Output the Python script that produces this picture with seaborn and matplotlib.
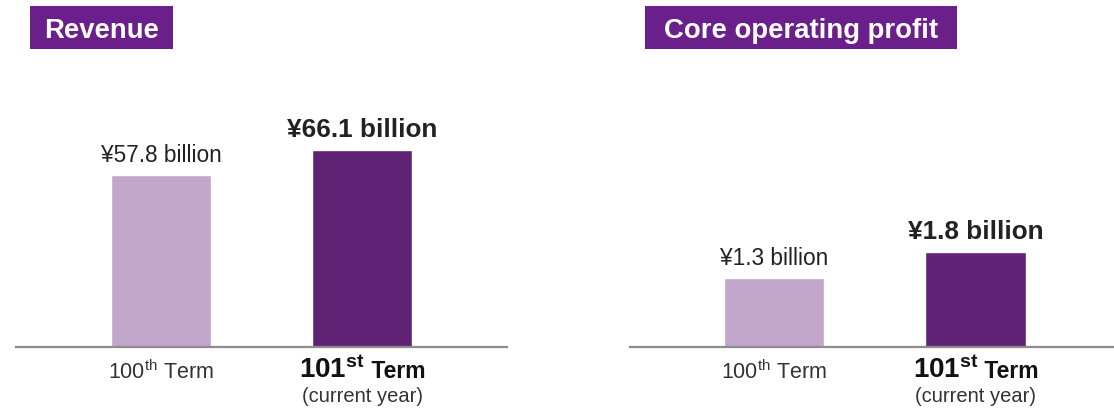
import matplotlib
matplotlib.use("Agg")
import matplotlib.pyplot as plt
import seaborn as sns
from matplotlib.patches import Rectangle
from matplotlib.offsetbox import TextArea, HPacker, VPacker, AnnotationBbox

# ---- data ----
categories = ["100th Term", "101st Term"]
term_numbers = ["100", "101"]
term_suffixes = ["th", "st"]
current_note = "(current year)"
revenue = [57.8, 66.1]
core_profit = [1.3, 1.8]
panel_titles = ["Revenue", "Core operating profit"]

# ---- style ----
sns.set_style("white")
plt.rcParams["font.family"] = ["Liberation Sans", "DejaVu Sans"]
plt.rcParams["mathtext.fontset"] = "custom"
plt.rcParams["mathtext.rm"] = "Liberation Sans"
plt.rcParams["mathtext.bf"] = "Liberation Sans:bold"
plt.rcParams["mathtext.it"] = "Liberation Sans:italic"

LIGHT = "#c2a6cc"
DARK = "#5f2275"
TITLE_BG = "#6a1f8a"
TXT = "#222222"

W, H = 1114, 410
fig = plt.figure(figsize=(W / 100, H / 100), dpi=100)

def px_axes(x0, x1, ytop, ybot):
    return fig.add_axes([x0 / W, (H - ybot) / H, (x1 - x0) / W, (ybot - ytop) / H])

ax_l = px_axes(16, 507, 60, 348)
ax_r = px_axes(630, 1114, 60, 348)

panels = [
    (ax_l, revenue, (-0.72, 1.72), 96.6, (30, 173)),
    (ax_r, core_profit, (-0.715, 1.687), 5.43, (645, 957)),
]

for (ax, vals, xlim, ytop, (bx0, bx1)), title in zip(panels, panel_titles):
    sns.barplot(x=categories, y=vals, hue=categories, palette=[LIGHT, DARK],
                width=0.5, saturation=1, legend=False, ax=ax)
    ax.set_xlim(*xlim)
    ax.set_ylim(0, ytop)
    for s in ["top", "left", "right"]:
        ax.spines[s].set_visible(False)
    ax.spines["bottom"].set_color("#8c8c8c")
    ax.spines["bottom"].set_linewidth(1.6)
    ax.set_xticks([])
    ax.set_yticks([])
    ax.set_xlabel("")
    ax.set_ylabel("")

    # value labels
    for i, v in enumerate(vals):
        bold = i == len(vals) - 1
        ax.annotate(f"¥{v} billion", xy=(i, v), xytext=(0, 10),
                    textcoords="offset points", ha="center", va="baseline",
                    fontsize=18.8 if bold else 16.3,
                    fontweight="bold" if bold else "normal", color=TXT,
                    annotation_clip=False)

    # category labels
    for i, (num, suf) in enumerate(zip(term_numbers, term_suffixes)):
        if i == 0:
            box = TextArea(num + r"$^{\mathrm{" + suf + r"}}$ Term",
                           textprops=dict(size=15.5, color="#333333"))
            yoff = -9
        else:
            row = HPacker(children=[
                TextArea(r"$\mathbf{" + num + r"}^{\mathbf{" + suf + r"}}$",
                         textprops=dict(size=20, color="#111111")),
                TextArea(" Term", textprops=dict(size=16.5, fontweight="bold",
                                                 color="#111111")),
            ], align="baseline", pad=0, sep=0)
            note = TextArea(current_note, textprops=dict(size=14.5, color="#333333"))
            box = VPacker(children=[row, note], align="center", pad=0, sep=2)
            yoff = -6
        ab = AnnotationBbox(box, (i, 0), xybox=(0, yoff), xycoords="data",
                            boxcoords="offset points", box_alignment=(0.5, 1),
                            frameon=False, pad=0, annotation_clip=False)
        ax.add_artist(ab)

    # title box
    fig.add_artist(Rectangle((bx0 / W, (H - 50) / H), (bx1 - bx0) / W, 43 / H,
                             transform=fig.transFigure, facecolor=TITLE_BG,
                             edgecolor="none"))
    fig.text((bx0 + bx1) / 2 / W, (H - 38) / H, title, ha="center", va="baseline",
             fontsize=19.8, fontweight="bold", color="white")

fig.savefig("out.png", dpi=100)
